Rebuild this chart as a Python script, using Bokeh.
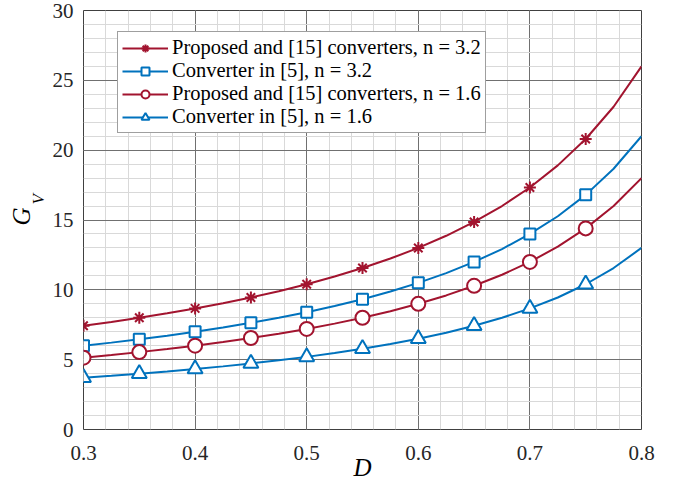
from bokeh.plotting import figure
from bokeh.models import Range1d, FixedTicker, Legend, LegendItem, Title
from bokeh.embed import file_html
from bokeh.resources import INLINE

# Duty cycle D (curve samples)
D = [0.300, 0.325, 0.350, 0.375, 0.400, 0.425, 0.450, 0.475, 0.500, 0.525,
     0.550, 0.575, 0.600, 0.625, 0.650, 0.675, 0.700, 0.725, 0.750, 0.775, 0.800]

# Voltage gain G_V
prop_n32 = [7.43, 7.70, 8.00, 8.32, 8.67, 9.04, 9.45, 9.90, 10.40, 10.95,
            11.56, 12.24, 13.00, 13.87, 14.86, 16.00, 17.33, 18.91, 20.80, 23.11, 26.00]
conv5_n32 = [6.00, 6.22, 6.46, 6.72, 7.00, 7.30, 7.64, 8.00, 8.40, 8.84,
             9.33, 9.88, 10.50, 11.20, 12.00, 12.92, 14.00, 15.27, 16.80, 18.67, 21.00]
prop_n16 = [5.14, 5.33, 5.54, 5.76, 6.00, 6.26, 6.55, 6.86, 7.20, 7.58,
            8.00, 8.47, 9.00, 9.60, 10.29, 11.08, 12.00, 13.09, 14.40, 16.00, 18.00]
conv5_n16 = [3.71, 3.85, 4.00, 4.16, 4.33, 4.52, 4.73, 4.95, 5.20, 5.47,
             5.78, 6.12, 6.50, 6.93, 7.43, 8.00, 8.67, 9.45, 10.40, 11.56, 13.00]

# Marker positions (D = 0.30 ... 0.75 step 0.05)
D_mark = [0.30, 0.35, 0.40, 0.45, 0.50, 0.55, 0.60, 0.65, 0.70, 0.75]
prop_n32_mark = [7.43, 8.00, 8.67, 9.45, 10.40, 11.56, 13.00, 14.86, 17.33, 20.80]
conv5_n32_mark = [6.00, 6.46, 7.00, 7.64, 8.40, 9.33, 10.50, 12.00, 14.00, 16.80]
prop_n16_mark = [5.14, 5.54, 6.00, 6.55, 7.20, 8.00, 9.00, 10.29, 12.00, 14.40]
conv5_n16_mark = [3.71, 4.00, 4.33, 4.73, 5.20, 5.78, 6.50, 7.43, 8.67, 10.40]

labels = ["Proposed and [15] converters, n = 3.2",
          "Converter in [5], n = 3.2",
          "Proposed and [15] converters, n = 1.6",
          "Converter in [5], n = 1.6"]

x_ticks = [0.3, 0.4, 0.5, 0.6, 0.7, 0.8]
y_ticks = [0, 5, 10, 15, 20, 25, 30]

RED = "#A2142F"
BLUE = "#0072BD"
FONT = "Liberation Serif"

p = figure(width=679, height=485, output_backend="svg", toolbar_location=None,
           x_range=Range1d(0.3, 0.8), y_range=Range1d(0, 30),
           min_border_left=83, min_border_right=38, min_border_top=10, min_border_bottom=56)

p.outline_line_color = "#404040"
p.outline_line_width = 1

xt = FixedTicker(ticks=x_ticks, minor_ticks=[round(0.3 + 0.02 * i, 2) for i in range(26)])
yt = FixedTicker(ticks=y_ticks, minor_ticks=list(range(0, 31)))
p.xaxis.ticker = xt
p.yaxis.ticker = yt
p.xgrid.ticker = xt
p.ygrid.ticker = yt

for ax in (p.xaxis[0], p.yaxis[0]):
    ax.axis_line_color = None
    ax.major_tick_line_color = None
    ax.minor_tick_line_color = None
    ax.major_tick_out = 0
    ax.major_tick_in = 0
    ax.minor_tick_out = 0
    ax.minor_tick_in = 0
    ax.major_label_text_font = FONT
    ax.major_label_text_font_size = "21px"
    ax.major_label_text_color = "#262626"
p.xaxis.major_label_standoff = 16
p.yaxis.major_label_standoff = 10
p.xaxis.major_label_overrides = {t: f"{t:.1f}" for t in x_ticks}

p.xaxis.axis_label = "D"
p.xaxis.axis_label_text_font = FONT
p.xaxis.axis_label_text_font_style = "italic"
p.xaxis.axis_label_text_font_size = "25px"
p.xaxis.axis_label_text_color = "#000000"
p.xaxis.axis_label_standoff = -9

for g in (p.xgrid[0], p.ygrid[0]):
    g.grid_line_color = "#555555"
    g.grid_line_alpha = 0.8
    g.grid_line_width = 1
    g.minor_grid_line_color = "#d9d9d9"
    g.minor_grid_line_width = 1

items = []
series = [
    (prop_n32, prop_n32_mark, RED, "asterisk", 12),
    (conv5_n32, conv5_n32_mark, BLUE, "square", 11),
    (prop_n16, prop_n16_mark, RED, "circle", 14),
    (conv5_n16, conv5_n16_mark, BLUE, "triangle", 15),
]
for (ys, ym, col, mk, sz), lab in zip(series, labels):
    r1 = p.line(D, ys, line_color=col, line_width=2)
    r2 = p.scatter(D_mark, ym, marker=mk, size=sz, line_color=col, line_width=2,
                   fill_color="white", fill_alpha=0.0 if mk == "asterisk" else 1.0)
    items.append(LegendItem(label=lab, renderers=[r1, r2]))

legend = Legend(items=items, location=(34, 296))
legend.label_text_font = FONT
legend.label_text_font_size = "20.5px"
legend.label_text_color = "#000000"
legend.glyph_width = 46
legend.glyph_height = 20
legend.label_height = 20
legend.spacing = 0
legend.padding = 4
legend.margin = 0
legend.label_standoff = 4
legend.border_line_color = "#404040"
legend.border_line_width = 1
legend.background_fill_color = "white"
legend.background_fill_alpha = 1.0
p.add_layout(legend, "center")

# y-axis label G_V built from two side titles (subscript V nearer the axis)
p.add_layout(Title(text="V", align="left", offset=225, standoff=4,
                   text_font=FONT, text_font_style="italic", text_font_size="17px",
                   text_color="#000000"), "left")
p.add_layout(Title(text="G", align="left", offset=204, standoff=-21,
                   text_font=FONT, text_font_style="italic", text_font_size="25px",
                   text_color="#000000"), "left")

open("out.html", "w").write(file_html(p, INLINE))
